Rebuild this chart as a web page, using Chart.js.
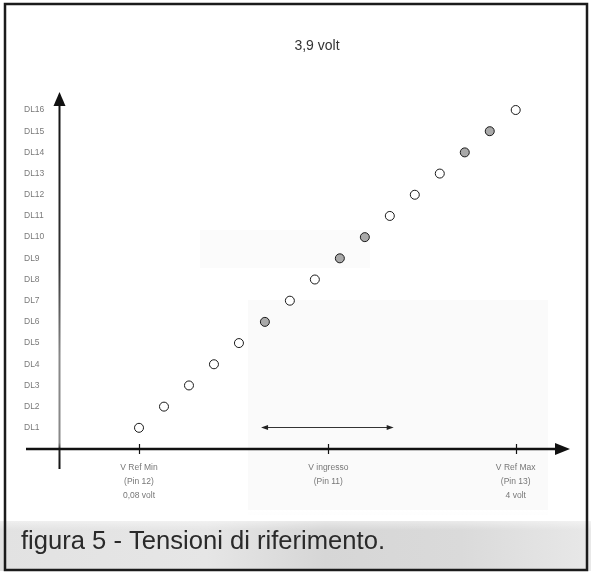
<!DOCTYPE html>
<html>
<head>
<meta charset="utf-8">
<script src="https://cdn.jsdelivr.net/npm/chart.js@4/dist/chart.umd.min.js"></script>
<style>
	body { margin: 0; background: #fff; }
	canvas { display: block; }
</style>
</head>
<body>
<canvas id="graph" width="591" height="576"></canvas>
<script>
// comparator thresholds: input voltage at which each DL output switches on
const levels = [1, 2, 3, 4, 5, 6, 7, 8, 9, 10, 11, 12, 13, 14, 15, 16];
const volts = [0.08, 0.34, 0.60, 0.86, 1.12, 1.39, 1.65, 1.91, 2.17, 2.43, 2.69, 2.95, 3.21, 3.47, 3.73, 4.00];
// outputs drawn shaded
const shaded = [6, 9, 10, 14, 15];

// marked voltages on the horizontal axis
const axisVolts = [0.08, 2.05, 4.00];
const axisLabels = [
	['V Ref Min', '(Pin 12)', '0,08 volt'],
	['V ingresso', '(Pin 11)'],
	['V Ref Max', '(Pin 13)', '4 volt']
];
// span of the input range arrow (volts)
const inputSpan = [1.35, 2.73];
const title = '3,9 volt';
const caption = 'figura 5 - Tensioni di riferimento.';

const FONT = '"Liberation Sans", Arial, sans-serif';

function arrowHead(ctx, x, y, dir, len, half)
{
	ctx.beginPath();
	if (dir === 'right') {
		ctx.moveTo(x, y);
		ctx.lineTo(x - len, y - half);
		ctx.lineTo(x - len, y + half);
	} else if (dir === 'left') {
		ctx.moveTo(x, y);
		ctx.lineTo(x + len, y - half);
		ctx.lineTo(x + len, y + half);
	} else {
		ctx.moveTo(x, y);
		ctx.lineTo(x - half, y + len);
		ctx.lineTo(x + half, y + len);
	}
	ctx.closePath();
	ctx.fill();
}

// paper, grey caption strip and frame
const paperPlugin = {
	id: 'paper',
	beforeDraw(chart) {
		const ctx = chart.ctx;
		ctx.save();
		ctx.fillStyle = '#fff';
		ctx.fillRect(0, 0, chart.width, chart.height);

		// faint print-through from the back of the page
		ctx.fillStyle = 'rgba(0,0,0,0.018)';
		ctx.fillRect(248, 300, 300, 215);
		ctx.fillStyle = 'rgba(0,0,0,0.015)';
		ctx.fillRect(200, 230, 170, 38);

		const band = ctx.createLinearGradient(0, 0, chart.width, 0);
		band.addColorStop(0, '#e2e2e2');
		band.addColorStop(0.35, '#e6e6e6');
		band.addColorStop(0.55, '#d6d6d6');
		band.addColorStop(0.78, '#dadada');
		band.addColorStop(1, '#e8e8e8');
		ctx.fillStyle = band;
		ctx.fillRect(0, 521, chart.width, 50);
		const fade = ctx.createLinearGradient(0, 510, 0, 530);
		fade.addColorStop(0, 'rgba(255,255,255,1)');
		fade.addColorStop(1, 'rgba(255,255,255,0)');
		ctx.fillStyle = fade;
		ctx.fillRect(0, 510, chart.width, 20);

		ctx.strokeStyle = '#1b1b1b';
		ctx.lineWidth = 2.5;
		ctx.strokeRect(5, 4, 582, 566);
		ctx.restore();
	},
	afterDraw(chart) {
		const ctx = chart.ctx;
		ctx.save();
		ctx.fillStyle = '#333';
		ctx.font = '14px ' + FONT;
		ctx.textAlign = 'center';
		ctx.textBaseline = 'middle';
		ctx.fillText(title, 317, 46);

		// caption: tall, narrow lettering squeezed to the strip width
		ctx.fillStyle = '#2a2a2a';
		ctx.textAlign = 'left';
		ctx.textBaseline = 'alphabetic';
		ctx.font = '25px ' + FONT;
		const squeeze = 364 / ctx.measureText(caption).width;
		ctx.translate(21, 549);
		ctx.scale(squeeze, 1);
		ctx.fillText(caption, 0, 0);
		ctx.restore();
	}
};

// axes with arrows, tick marks and the input range arrow
const axesPlugin = {
	id: 'axes',
	beforeDatasetsDraw(chart) {
		const ctx = chart.ctx;
		const x = chart.scales.x;
		const y = chart.scales.y;
		const x0 = Math.round(x.getPixelForValue(x.min)) + 0.5;
		const y0 = Math.round(y.getPixelForValue(0));
		const yTop = y.getPixelForValue(y.max);
		const xEnd = x.getPixelForValue(x.max);
		ctx.save();

		// vertical axis
		const g = ctx.createLinearGradient(0, yTop, 0, y0 + 20);
		g.addColorStop(0, '#111');
		g.addColorStop(0.45, '#333');
		g.addColorStop(0.7, '#888');
		g.addColorStop(0.93, '#888');
		g.addColorStop(0.95, '#222');
		g.addColorStop(1, '#111');
		ctx.strokeStyle = g;
		ctx.lineWidth = 2;
		ctx.beginPath();
		ctx.moveTo(x0, yTop + 12);
		ctx.lineTo(x0, y0 + 20);
		ctx.stroke();
		ctx.fillStyle = '#111';
		arrowHead(ctx, x0, yTop, 'up', 14, 6);

		// horizontal axis
		ctx.strokeStyle = '#111';
		ctx.lineWidth = 2.5;
		ctx.beginPath();
		ctx.moveTo(26, y0);
		ctx.lineTo(xEnd - 12, y0);
		ctx.stroke();
		arrowHead(ctx, xEnd, y0, 'right', 15, 6);

		ctx.lineWidth = 1.2;
		axisVolts.forEach(v => {
			const px = Math.round(x.getPixelForValue(v)) + 0.5;
			ctx.beginPath();
			ctx.moveTo(px, y0 - 5);
			ctx.lineTo(px, y0 + 5);
			ctx.stroke();
		});

		// input range
		const a = x.getPixelForValue(inputSpan[0]);
		const b = x.getPixelForValue(inputSpan[1]);
		const ya = Math.round(y.getPixelForValue(1.05)) + 0.5;
		ctx.strokeStyle = '#333';
		ctx.fillStyle = '#222';
		ctx.lineWidth = 1;
		ctx.beginPath();
		ctx.moveTo(a + 4, ya);
		ctx.lineTo(b - 4, ya);
		ctx.stroke();
		arrowHead(ctx, a, ya, 'left', 7, 2.5);
		arrowHead(ctx, b, ya, 'right', 7, 2.5);
		ctx.restore();
	}
};

const points = volts.map((v, i) => ({ x: v, y: levels[i] }));

new Chart(document.getElementById('graph').getContext('2d'), {
	type: 'scatter',
	data: {
		datasets: [{
			data: points,
			pointRadius: 4.5,
			pointHoverRadius: 4.5,
			pointBorderWidth: 1,
			pointBorderColor: '#1a1a1a',
			pointBackgroundColor: levels.map(l => shaded.includes(l) ? '#a9a9a9' : '#fff')
		}]
	},
	options: {
		responsive: false,
		animation: false,
		devicePixelRatio: 1,
		layout: { padding: { left: 24, top: 92, right: 21, bottom: 67 } },
		plugins: { legend: { display: false }, tooltip: { enabled: false } },
		scales: {
			x: {
				type: 'linear',
				min: -0.7525,
				max: 4.565,
				grid: { display: false, drawTicks: false },
				border: { display: false },
				afterBuildTicks: s => { s.ticks = axisVolts.map(v => ({ value: v })); },
				afterFit: s => { s.height = 60; },
				ticks: {
					autoSkip: false,
					maxRotation: 0,
					padding: 11.5,
					color: '#777',
					font: { family: FONT, size: 8.5, lineHeight: 1.65 },
					callback: (v, i) => axisLabels[i]
				}
			},
			y: {
				type: 'linear',
				min: 0,
				max: 16.85,
				grid: { display: false, drawTicks: false },
				border: { display: false },
				afterBuildTicks: s => { s.ticks = levels.map(v => ({ value: v })); },
				afterFit: s => { s.width = 35; },
				ticks: {
					autoSkip: false,
					crossAlign: 'far',
					color: '#7a7a7a',
					font: { family: FONT, size: 8.5 },
					callback: v => 'DL' + v
				}
			}
		}
	},
	plugins: [paperPlugin, axesPlugin]
});
</script>
</body>
</html>
